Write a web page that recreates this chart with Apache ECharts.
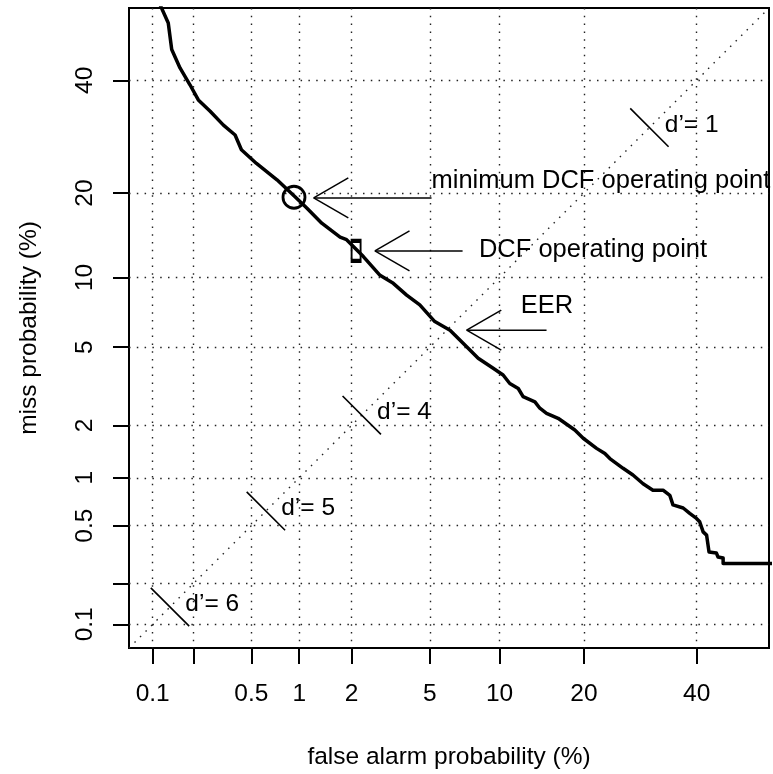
<!DOCTYPE html>
<html>
<head>
<meta charset="utf-8">
<script src="https://cdn.jsdelivr.net/npm/echarts@6/dist/echarts.min.js"></script>
<style>
html,body{margin:0;padding:0;background:#fff;}
#chart{width:773px;height:774px;}
</style>
</head>
<body>
<div id="chart"></div>
<script>
// ---- data (percent) ----
const falseAlarmPct = [0.112,0.131,0.139,0.160,0.189,0.217,0.263,0.325,0.39,0.43,0.54,0.73,0.94,1.11,1.36,1.73,1.88,2.32,2.84,3.32,3.87,4.48,5.27,6.18,7.31,8.18,9.43,10.33,10.97,11.82,12.33,13.63,14.2,15.0,16.45,18.7,19.9,21.9,23.2,24.0,26.2,27.9,29.7,31.5,33.4,34.7,35.3,37.3,38.6,39.95,40.6,41.3,42.0,42.5,44.0,44.35,45.4,45.4,56];
const missPct       = [56,51.8,46.3,42.5,39.1,36.1,33.9,31.3,29.5,26.9,24.6,22.0,19.5,17.9,15.9,14.2,13.9,12.05,10.2,9.47,8.48,7.71,6.53,5.98,5.02,4.43,3.96,3.67,3.33,3.14,2.85,2.68,2.48,2.33,2.19,1.89,1.70,1.49,1.39,1.30,1.14,1.04,0.92,0.84,0.84,0.78,0.68,0.65,0.60,0.557,0.53,0.455,0.433,0.333,0.328,0.308,0.303,0.278,0.278];

const tickPct  = [0.1,0.2,0.5,1,2,5,10,20,40];
const labelPct = [0.1,0.5,1,2,5,10,20,40];
const axisLimitsPct = [0.1, 50];

const dPrimeValues = [1,4,5,6];

const minDcfPoint = [0.93, 19.4];
const dcfPoint = [2.12, 12.65];

// arrows: [tipFA, tipMiss, tailFA, tailMiss]
const arrowsPct = [
  [1.22, 19.3, 5.09, 19.3],
  [2.67, 12.65, 7.02, 12.65],
  [7.31, 5.98, 15.0, 5.98]
];
const annotationTexts = ['minimum DCF operating point', 'DCF operating point', 'EER'];
const annotationPosPct = [[5.09, 21.8],[8.24, 12.72],[12.07, 7.62]];

// ---- probit ----
function qnorm(p){
  const a=[-3.969683028665376e+01,2.209460984245205e+02,-2.759285104469687e+02,1.383577518672690e+02,-3.066479806614716e+01,2.506628277459239e+00];
  const b=[-5.447609879822406e+01,1.615858368580409e+02,-1.556989798598866e+02,6.680131188771972e+01,-1.328068155288572e+01];
  const c=[-7.784894002430293e-03,-3.223964580411365e-01,-2.400758277161838e+00,-2.549732539343734e+00,4.374664141464968e+00,2.938163982698783e+00];
  const d=[7.784695709041462e-03,3.224671290700398e-01,2.445134137142996e+00,3.754408661907416e+00];
  const pl=0.02425, ph=1-pl; let q,r;
  if(p<pl){q=Math.sqrt(-2*Math.log(p));return (((((c[0]*q+c[1])*q+c[2])*q+c[3])*q+c[4])*q+c[5])/((((d[0]*q+d[1])*q+d[2])*q+d[3])*q+1);}
  if(p<=ph){q=p-0.5;r=q*q;return (((((a[0]*r+a[1])*r+a[2])*r+a[3])*r+a[4])*r+a[5])*q/(((((b[0]*r+b[1])*r+b[2])*r+b[3])*r+b[4])*r+1);}
  q=Math.sqrt(-2*Math.log(1-p));return -(((((c[0]*q+c[1])*q+c[2])*q+c[3])*q+c[4])*q+c[5])/((((d[0]*q+d[1])*q+d[2])*q+d[3])*q+1);
}
const pr = v => qnorm(v/100);

const lo = pr(axisLimitsPct[0]), hi = pr(axisLimitsPct[1]);
const ext = (hi-lo)*0.04;
const axMin = lo-ext, axMax = hi+ext;

const FONT = '"Liberation Sans", Arial, Helvetica, sans-serif';
const FS = 24.5;
const FS_ANN = 25.5;

function labelFmt(v){
  for (const p of labelPct){ if (Math.abs(pr(p)-v) < 1e-6) return String(p); }
  return '';
}

const dotted = {color:'#222', width:1.4, type:[1.5,6.3]};

function makeAxis(isY){
  return {
    type:'value', min:axMin, max:axMax,
    axisLine:{show:false, onZero:false},
    axisTick:{show:true, inside:false, length:16, customValues: tickPct.map(pr), lineStyle:{color:'#000', width:2}},
    axisLabel:{show:true, customValues: labelPct.map(pr), formatter: labelFmt, margin: isY?31:34, fontSize:FS, color:'#000', fontFamily:FONT, rotate: isY?90:0},
    splitLine:{show:true, lineStyle:dotted},
    name: isY ? 'miss probability (%)' : 'false alarm probability (%)',
    nameLocation:'middle', nameGap: isY ? 87 : 97,
    nameTextStyle:{fontSize:FS, color:'#000', fontFamily:FONT}
  };
}

const curveData = falseAlarmPct.map((x,i)=>[pr(x), pr(missPct[i])]);

const chart = echarts.init(document.getElementById('chart'), null, {renderer:'canvas'});
chart.setOption({
  animation:false,
  backgroundColor:'#fff',
  grid:{left:129, right:4, top:8, bottom:126, show:true, borderColor:'#000', borderWidth:2, backgroundColor:'transparent', containLabel:false, outerBoundsMode:'none'},
  xAxis: makeAxis(false),
  yAxis: makeAxis(true),
  series:[
    {type:'line', data:[[axMin,axMin],[axMax,axMax]], symbol:'none', silent:true,
     lineStyle:{color:'#222', width:1.4, type:[1.5,6.3]}, z:1},
    {type:'line', data:curveData, symbol:'none', silent:true, clip:true,
     lineStyle:{color:'#000', width:3.5, join:'round'}, z:3},
    {type:'custom', data: dPrimeValues.map(d=>[d]), silent:true, clip:false, z:2,
     renderItem:(params, api)=>{
       const c = -api.value(0)/2;
       const p1 = api.coord([c-0.1, c+0.1]);
       const p2 = api.coord([c+0.1, c-0.1]);
       const t = api.coord([c+0.08, c+0.013]);
       return {type:'group', children:[
         {type:'line', shape:{x1:p1[0],y1:p1[1],x2:p2[0],y2:p2[1]}, style:{stroke:'#000', lineWidth:1.6}},
         {type:'text', x:t[0], y:t[1], style:{text:'d\u2019= '+api.value(0), fill:'#000', font: FS+'px '+FONT, textAlign:'left', textVerticalAlign:'middle'}}
       ]};
     }},
    {type:'scatter', data:[{value:[pr(minDcfPoint[0]), pr(minDcfPoint[1])], symbol:'circle', symbolSize:22},
                           {value:[pr(dcfPoint[0]), pr(dcfPoint[1])], symbol:'rect', symbolSize:[9,20]}],
     itemStyle:{color:'rgba(0,0,0,0)', borderColor:'#000', borderWidth:2.8, opacity:1}, silent:true, z:4},
    {type:'custom', data: arrowsPct.map(a=>[pr(a[0]),pr(a[1]),pr(a[2]),pr(a[3])]), silent:true, clip:false, z:4,
     renderItem:(params, api)=>{
       const tip = api.coord([api.value(0), api.value(1)]);
       const tail = api.coord([api.value(2), api.value(3)]);
       const ang = Math.atan2(tail[1]-tip[1], tail[0]-tip[0]);
       const L = 40, A = Math.PI/6;
       const h1 = [tip[0]+L*Math.cos(ang+A), tip[1]+L*Math.sin(ang+A)];
       const h2 = [tip[0]+L*Math.cos(ang-A), tip[1]+L*Math.sin(ang-A)];
       const st = {stroke:'#000', lineWidth:1.5};
       return {type:'group', children:[
         {type:'line', shape:{x1:tail[0],y1:tail[1],x2:tip[0],y2:tip[1]}, style:st},
         {type:'line', shape:{x1:tip[0],y1:tip[1],x2:h1[0],y2:h1[1]}, style:st},
         {type:'line', shape:{x1:tip[0],y1:tip[1],x2:h2[0],y2:h2[1]}, style:st}
       ]};
     }},
    {type:'custom', data: annotationPosPct.map((p,i)=>[pr(p[0]), pr(p[1]), i]), silent:true, clip:false, z:5,
     renderItem:(params, api)=>{
       const pt = api.coord([api.value(0), api.value(1)]);
       return {type:'text', x:pt[0], y:pt[1], style:{text:annotationTexts[api.value(2)], fill:'#000', font: FS_ANN+'px '+FONT, textAlign:'left', textVerticalAlign:'middle'}};
     }}
  ]
});
</script>
</body>
</html>
